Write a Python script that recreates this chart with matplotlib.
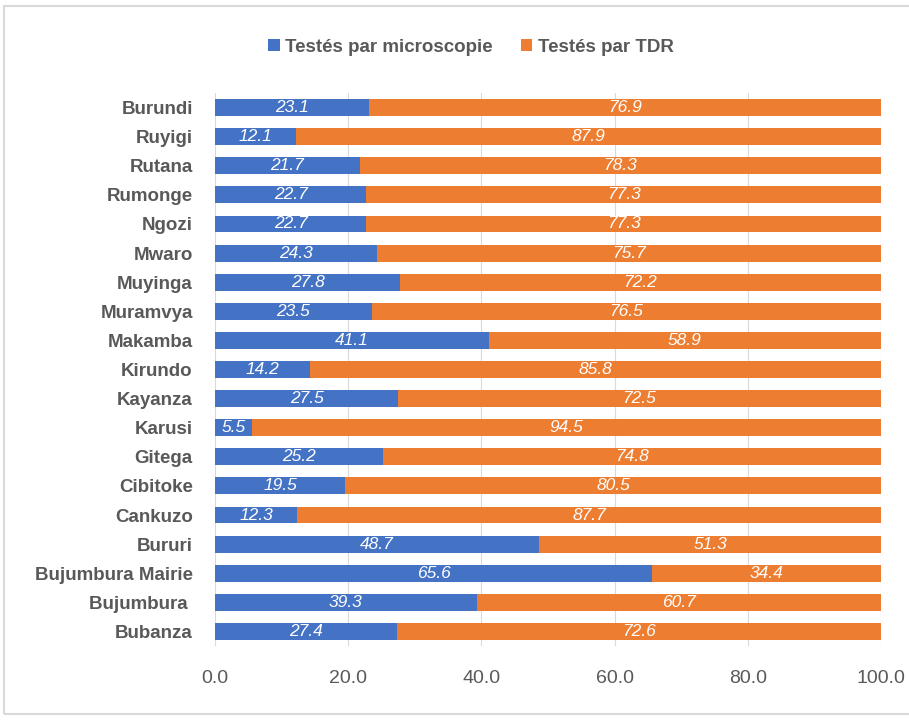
import matplotlib.pyplot as plt
from matplotlib.patches import Rectangle

provinces = ["Burundi", "Ruyigi", "Rutana", "Rumonge", "Ngozi", "Mwaro", "Muyinga",
             "Muramvya", "Makamba", "Kirundo", "Kayanza", "Karusi", "Gitega", "Cibitoke",
             "Cankuzo", "Bururi", "Bujumbura Mairie", "Bujumbura ", "Bubanza"]
microscopie = [23.1, 12.1, 21.7, 22.7, 22.7, 24.3, 27.8, 23.5, 41.1, 14.2, 27.5, 5.5,
               25.2, 19.5, 12.3, 48.7, 65.6, 39.3, 27.4]
tdr = [76.9, 87.9, 78.3, 77.3, 77.3, 75.7, 72.2, 76.5, 58.9, 85.8, 72.5, 94.5,
       74.8, 80.5, 87.7, 51.3, 34.4, 60.7, 72.6]
xticks = [0, 20, 40, 60, 80, 100]

plt.rcParams['font.family'] = ['Liberation Sans', 'DejaVu Sans']

blue = "#4472C4"
orange = "#ED7D31"
grey = "#595959"

fig = plt.figure(figsize=(9.09, 7.22), dpi=100)
ax = fig.add_axes([215 / 909, 1 - 646 / 722, (881 - 215) / 909, (646 - 93) / 722])

# chart frame
fig.patches.append(Rectangle((4 / 909, 8 / 722), 1, 1 - 14 / 722, transform=fig.transFigure,
                             fill=False, edgecolor="#d9d9d9", linewidth=1.5))

y = list(range(len(provinces)))
b1 = ax.barh(y, microscopie, height=0.58, color=blue, label="Testés par microscopie")
b2 = ax.barh(y, tdr, left=microscopie, height=0.58, color=orange, label="Testés par TDR")

for vals, lefts in [(microscopie, [0] * len(microscopie)), (tdr, microscopie)]:
    for yy, v, l in zip(y, vals, lefts):
        ax.text(l + v / 2, yy, f"{v:.1f}", ha="center", va="center", color="white",
                style="italic", fontsize=12.5)

ax.set_ylim(len(provinces) - 0.5, -0.5)
ax.set_xlim(0, 100)
ax.set_yticks(y)
ax.set_yticklabels(provinces, fontsize=13.5, fontweight="bold", color=grey)
ax.set_xticks(xticks)
ax.set_xticklabels([f"{t:.1f}" for t in xticks], fontsize=14, color=grey)
ax.tick_params(axis="both", length=0)
ax.tick_params(axis="x", pad=17)
ax.tick_params(axis="y", pad=16)
ax.grid(axis="x", color="#d9d9d9", linewidth=0.8)
ax.set_axisbelow(True)
for s in ax.spines.values():
    s.set_visible(False)

fig.legend(loc="center", bbox_to_anchor=(471 / 909, 1 - 47 / 722), ncol=2, frameon=False,
           handlelength=0.6, handleheight=0.6, handletextpad=0.3, columnspacing=1.5,
           prop={"size": 13.5, "weight": "bold"}, labelcolor=grey)

fig.savefig("out.png", dpi=100)
